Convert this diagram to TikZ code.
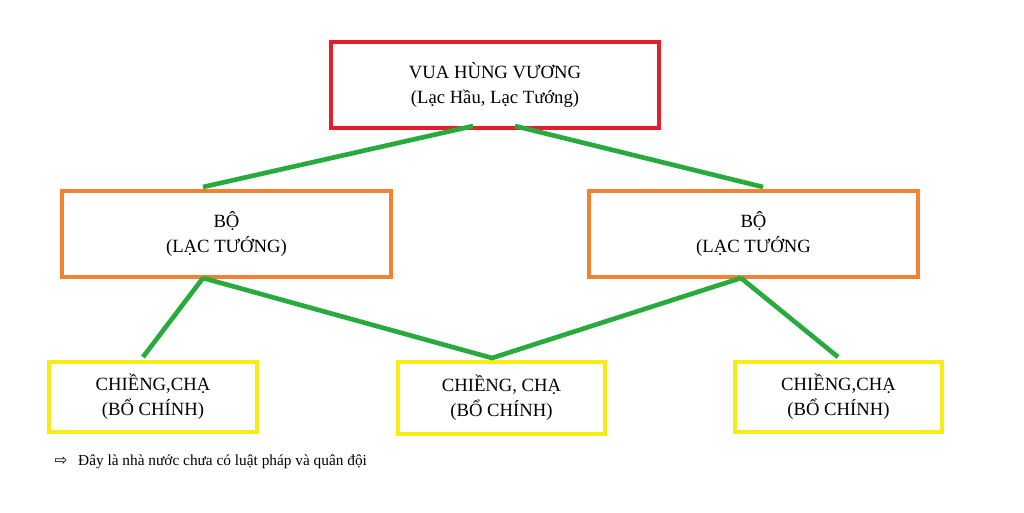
\documentclass[tikz,border=0pt]{standalone}
\usepackage{fontspec}
\setmainfont{Liberation Serif}
\newfontfamily\symfont{DejaVu Sans}
\begin{document}
\begin{tikzpicture}[x=0.75pt,y=-0.75pt,
  bx/.style={draw=#1,line width=3.5pt,inner sep=0pt,align=center,font=\fontsize{14}{19}\selectfont},
  ln/.style={draw={rgb,255:red,40;green,170;blue,60},line width=3.5pt}]
\useasboundingbox (0,0) rectangle (1024,512);
\definecolor{rd}{RGB}{230,30,40}
\definecolor{og}{RGB}{245,130,50}
\definecolor{yl}{RGB}{250,235,20}
\node[bx=rd,minimum width=328*0.75pt,minimum height=86*0.75pt] (top) at (495,85) {VUA HÙNG VƯƠNG\\(Lạc Hầu, Lạc Tướng)};
\node[bx=og,minimum width=329*0.75pt,minimum height=86*0.75pt] (bl) at (226.5,234) {BỘ\\(LẠC TƯỚNG)};
\node[bx=og,minimum width=329*0.75pt,minimum height=86*0.75pt] (br) at (753.5,234) {BỘ\\(LẠC TƯỚNG};
\node[bx=yl,minimum width=208*0.75pt,minimum height=70*0.75pt] (c1) at (153,397) {CHIỀNG,CHẠ\\(BỔ CHÍNH)};
\node[bx=yl,minimum width=207*0.75pt,minimum height=72*0.75pt] (c2) at (501.5,398) {CHIỀNG, CHẠ\\(BỔ CHÍNH)};
\node[bx=yl,minimum width=207*0.75pt,minimum height=70*0.75pt] (c3) at (838.5,397) {CHIỀNG,CHẠ\\(BỔ CHÍNH)};
\coordinate (t1) at (473,126); \coordinate (t2) at (515,126);
\coordinate (l1) at (203,187); \coordinate (r1) at (763,187);
\coordinate (lb) at (203,278); \coordinate (rb) at (741,278);
\coordinate (m) at (492,358); \coordinate (e1) at (143,357); \coordinate (e3) at (838,357);
\draw[ln] (t1) -- (l1);
\draw[ln] (t2) -- (r1);
\draw[ln] (lb) -- (e1);
\draw[ln] (lb) -- (m) -- (rb);
\draw[ln] (rb) -- (e3);
\node[anchor=west,font=\fontsize{11.5}{14}\selectfont] (note) at (50,462) {{\symfont ⇨}\hspace{8pt}Đây là nhà nước chưa có luật pháp và quân đội};
\end{tikzpicture}
\end{document}
